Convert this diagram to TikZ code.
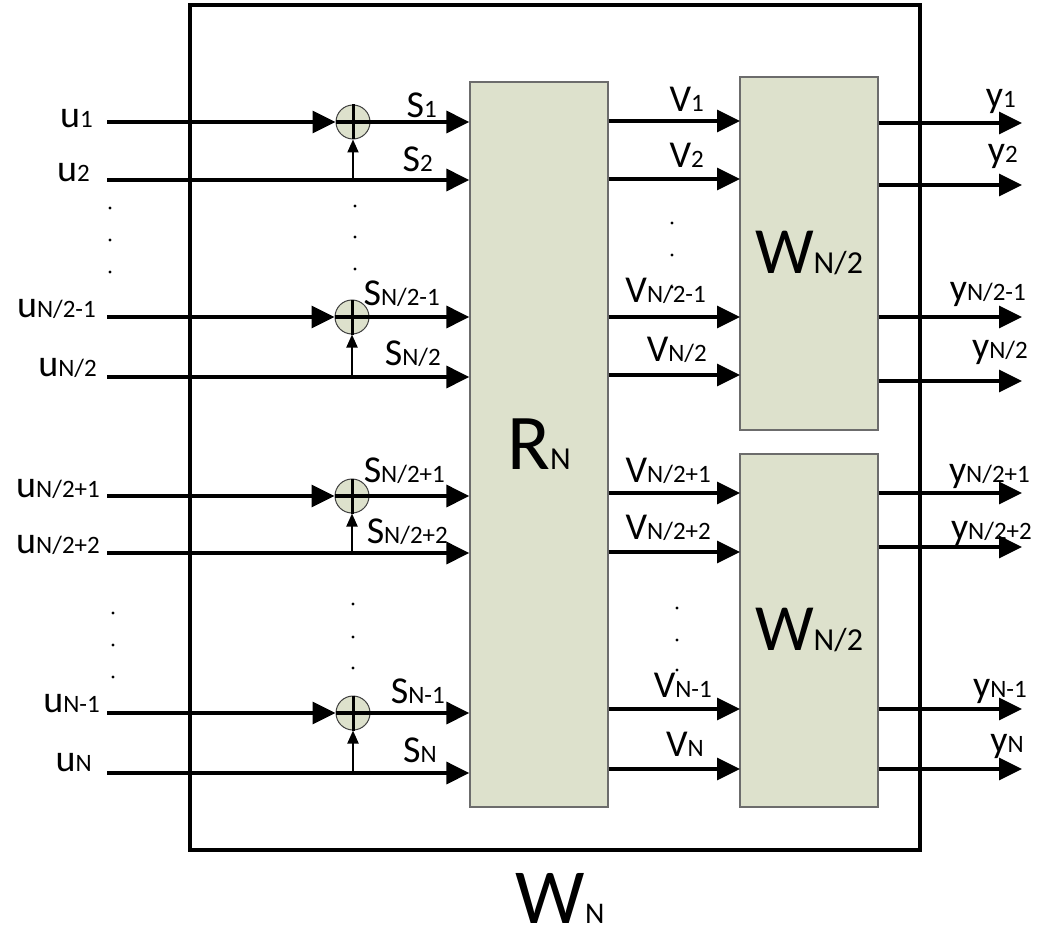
\documentclass[tikz,border=0pt]{standalone}
\usepackage{fontspec}
\setmainfont{Carlito}
\usepackage{tikz}
\usetikzlibrary{arrows.meta,positioning}
\definecolor{blkfill}{RGB}{221,225,204}
\newcommand{\sub}[1]{{\fontsize{25pt}{25pt}\selectfont #1}}
\newcommand{\bsub}[1]{{\fontsize{32pt}{32pt}\selectfont #1}}

\begin{document}
\begin{tikzpicture}[
  x=1pt, y=-1pt,
  blk/.style={draw=gray!85!black, fill=blkfill, line width=1.3pt, inner sep=0pt,
              minimum width=138pt, font=\fontsize{66pt}{70pt}\selectfont},
  sum/.style={circle, draw=black!75, fill=blkfill, line width=1pt,
              minimum size=34pt, inner sep=0pt},
  lab/.style={font=\fontsize{38pt}{40pt}\selectfont, inner sep=0pt, anchor=base east},
  arr/.style={-{Triangle[length=23pt,width=22pt]}, line width=3.3pt},
  sarr/.style={-{Triangle[length=13pt,width=11pt]}, line width=2pt},
  plus/.style={line width=3pt},
]
\useasboundingbox (0,0) rectangle (1037,931);

\node[draw, line width=3.5pt, inner sep=0pt, minimum width=730pt, minimum height=845pt] (wn) at (555,427.5) {};
\node[font=\fontsize{78pt}{80pt}\selectfont, inner sep=0pt, anchor=base] (wnlab) at (560,923)
  {W{\fontsize{30pt}{30pt}\selectfont N}};

\node[blk, minimum height=725pt, font=\fontsize{79pt}{80pt}\selectfont] (rn) at (539,444.5) {R\bsub{N}};
\node[blk, minimum height=353pt] (wa) at (809,253.5) {W\bsub{N/2}};
\node[blk, minimum height=353pt] (wb) at (809,630.5) {W\bsub{N/2}};

\node[sum] (sum1) at (353,122) {};
\node[sum] (sum2) at (352,317) {};
\node[sum] (sum3) at (352,496) {};
\node[sum] (sum4) at (353,713) {};

\coordinate (a1) at (107,122);
\coordinate (a2) at (107,180);
\coordinate (a3) at (107,317);
\coordinate (a4) at (107,377);
\coordinate (a5) at (107,496);
\coordinate (a6) at (107,553);
\coordinate (a7) at (107,713);
\coordinate (a8) at (107,773);

\coordinate (p1) at (740,121);
\coordinate (p2) at (740,179);
\coordinate (p3) at (740,317);
\coordinate (p4) at (740,375);
\coordinate (p5) at (740,493);
\coordinate (p6) at (740,552);
\coordinate (p7) at (740,709);
\coordinate (p8) at (740,769);

\coordinate (q1) at (1022,123);
\coordinate (q2) at (1022,185);
\coordinate (q3) at (1022,317);
\coordinate (q4) at (1022,381);
\coordinate (q5) at (1022,493);
\coordinate (q6) at (1022,547);
\coordinate (q7) at (1022,709);
\coordinate (q8) at (1022,769);

\node[lab] (u1) at (93,128) {u\sub{1}};
\node[lab] (u2) at (90,182) {u\sub{2}};
\node[lab] (u3) at (96,317) {u\sub{N/2-1}};
\node[lab] (u4) at (97,376) {u\sub{N/2}};
\node[lab] (u5) at (100,497) {u\sub{N/2+1}};
\node[lab] (u6) at (100,553) {u\sub{N/2+2}};
\node[lab] (u7) at (100,712) {u\sub{N-1}};
\node[lab] (u8) at (92,771) {u\sub{N}};

\node[lab] (s1) at (437,118) {S\sub{1}};
\node[lab] (s2) at (433,172) {S\sub{2}};
\node[lab] (s3) at (440,305) {S\sub{N/2-1}};
\node[lab] (s4) at (441,365) {S\sub{N/2}};
\node[lab] (s5) at (445,482) {S\sub{N/2+1}};
\node[lab] (s6) at (448,543) {S\sub{N/2+2}};
\node[lab] (s7) at (445,703) {S\sub{N-1}};
\node[lab] (s8) at (437,762) {S\sub{N}};

\node[lab] (v1) at (704,112) {V\sub{1}};
\node[lab] (v2) at (704,168) {V\sub{2}};
\node[lab] (v3) at (706,302) {V\sub{N/2-1}};
\node[lab] (v4) at (707,361) {V\sub{N/2}};
\node[lab] (v5) at (711,482) {V\sub{N/2+1}};
\node[lab] (v6) at (711,539) {V\sub{N/2+2}};
\node[lab] (v7) at (712,697) {V\sub{N-1}};
\node[lab] (v8) at (704,756) {V\sub{N}};

\node[lab] (y1) at (1016,108) {y\sub{1}};
\node[lab] (y2) at (1018,163) {y\sub{2}};
\node[lab] (y3) at (1026,300) {y\sub{N/2-1}};
\node[lab] (y4) at (1028,358) {y\sub{N/2}};
\node[lab] (y5) at (1030,482) {y\sub{N/2+1}};
\node[lab] (y6) at (1032,539) {y\sub{N/2+2}};
\node[lab] (y7) at (1027,697) {y\sub{N-1}};
\node[lab] (y8) at (1024,752) {y\sub{N}};

\draw[arr] (a1) -- (sum1.west);
\draw[arr] (sum1.west) -- (sum1.west -| rn.west);
\draw[plus] (sum1.north) -- (sum1.south);
\draw[arr] (a2) -- (a2 -| rn.west);
\draw[sarr] (a2 -| sum1) -- (sum1.south);

\draw[arr] (a3) -- (sum2.west);
\draw[arr] (sum2.west) -- (sum2.west -| rn.west);
\draw[plus] (sum2.north) -- (sum2.south);
\draw[arr] (a4) -- (a4 -| rn.west);
\draw[sarr] (a4 -| sum2) -- (sum2.south);

\draw[arr] (a5) -- (sum3.west);
\draw[arr] (sum3.west) -- (sum3.west -| rn.west);
\draw[plus] (sum3.north) -- (sum3.south);
\draw[arr] (a6) -- (a6 -| rn.west);
\draw[sarr] (a6 -| sum3) -- (sum3.south);

\draw[arr] (a7) -- (sum4.west);
\draw[arr] (sum4.west) -- (sum4.west -| rn.west);
\draw[plus] (sum4.north) -- (sum4.south);
\draw[arr] (a8) -- (a8 -| rn.west);
\draw[sarr] (a8 -| sum4) -- (sum4.south);

\draw[arr] (rn.east |- p1) -- (p1);
\draw[arr] (rn.east |- p2) -- (p2);
\draw[arr] (rn.east |- p3) -- (p3);
\draw[arr] (rn.east |- p4) -- (p4);
\draw[arr] (rn.east |- p5) -- (p5);
\draw[arr] (rn.east |- p6) -- (p6);
\draw[arr] (rn.east |- p7) -- (p7);
\draw[arr] (rn.east |- p8) -- (p8);

\draw[arr] (wa.east |- q1) -- (q1);
\draw[arr] (wa.east |- q2) -- (q2);
\draw[arr] (wa.east |- q3) -- (q3);
\draw[arr] (wa.east |- q4) -- (q4);
\draw[arr] (wb.east |- q5) -- (q5);
\draw[arr] (wb.east |- q6) -- (q6);
\draw[arr] (wb.east |- q7) -- (q7);
\draw[arr] (wb.east |- q8) -- (q8);

\fill (110,208) circle (1.6) (110,240) circle (1.6) (110,272) circle (1.6);
\fill (113,613) circle (1.6) (113,645) circle (1.6) (113,677) circle (1.6);
\fill (355,206) circle (1.6) (355,237) circle (1.6) (355,269) circle (1.6);
\fill (353,604) circle (1.6) (353,637) circle (1.6) (353,668) circle (1.6);
\fill (672,223) circle (1.6) (672,255) circle (1.6) (672,287) circle (1.6);
\fill (677,608) circle (1.6) (677,640) circle (1.6) (677,670) circle (1.6);
\end{tikzpicture}
\end{document}
